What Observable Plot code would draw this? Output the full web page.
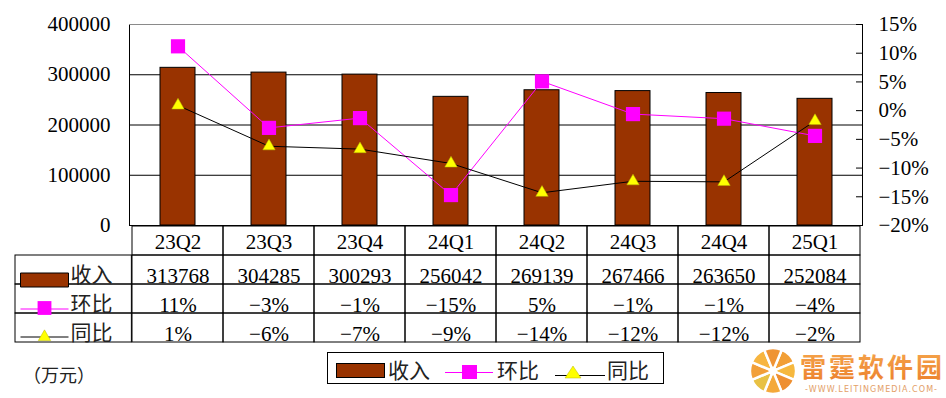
<!DOCTYPE html>
<html>
<head>
<meta charset="utf-8">
<script src="https://cdn.jsdelivr.net/npm/d3@7"></script>
<script src="https://cdn.jsdelivr.net/npm/@observablehq/plot@0.6"></script>
<style>
  html, body { margin: 0; padding: 0; background: #fff; }
  #wrap { position: relative; width: 946px; height: 398px; overflow: hidden; background: #fff; }
  #wrap > * { position: absolute; left: 0; }
  #chart { top: 0; }
  #table { top: 225px; }
  #extra { top: 0; pointer-events: none; }
</style>
</head>
<body>
<div id="wrap">
  <div id="chart"></div>
  <div id="table"></div>
  <svg id="extra" width="946" height="398"></svg>
</div>
<script>
// ---------- data ----------
const quarters = ["23Q2", "23Q3", "23Q4", "24Q1", "24Q2", "24Q3", "24Q4", "25Q1"];
const revenue  = [313768, 304285, 300293, 256042, 269139, 267466, 263650, 252084]; // 收入 (万元)
const qoq      = [11.2, -3.0, -1.3, -14.7, 5.1, -0.6, -1.4, -4.4];                  // 环比 %
const yoy      = [0.9, -6.2, -6.7, -9.2, -14.3, -12.3, -12.4, -1.8];                // 同比 %
const qoqLabels = ["11%", "−3%", "−1%", "−15%", "5%", "−1%", "−1%", "−4%"];
const yoyLabels = ["1%", "−6%", "−7%", "−9%", "−14%", "−12%", "−12%", "−2%"];
const leftTicks  = [0, 100000, 200000, 300000, 400000];
const rightTicks = [-20, -15, -10, -5, 0, 5, 10, 15];
const seriesNames = ["收入", "环比", "同比"];
const unitLabel = "（万元）";

// ---------- helpers ----------
const C_BAR = "#993300", C_QOQ = "#FF00FF", C_YOY = "#000000", C_TRI = "#FFFF00";
const FONT = '"Liberation Serif", "Noto Sans CJK SC", serif';
const YMAX = 400000, PMIN = -20, PMAX = 15;
const yOf = p => (p - PMIN) / (PMAX - PMIN) * YMAX;           // % -> left-axis units
const pOf = v => v / YMAX * (PMAX - PMIN) + PMIN;
const fmtPct = p => (p < 0 ? "−" + Math.abs(p) : String(p)) + "%";

const data = quarters.map((q, i) => ({q, rev: revenue[i], qoq: qoq[i], yoy: yoy[i], qoqL: qoqLabels[i], yoyL: yoyLabels[i]}));

const mL = 129, mR = 84, W = 946;
const bw = (W - mL - mR) / quarters.length;
const labelColW = 117;

// ---------- chart ----------
const chart = Plot.plot({
  width: W, height: 226,
  marginTop: 24, marginBottom: 1, marginLeft: mL, marginRight: mR,
  style: {fontFamily: FONT, fontSize: "21px", color: "#000", background: "transparent", overflow: "visible"},
  x: {type: "band", domain: quarters, padding: 0, axis: null},
  y: {domain: [0, YMAX], axis: null},
  marks: [
    Plot.ruleY([100000, 200000, 300000], {stroke: "#000", strokeWidth: 1}),
    Plot.frame({stroke: "#000"}),
    Plot.ruleY([YMAX], {stroke: "#8a8a8a"}),
    Plot.ruleY(rightTicks.map(yOf), {insetLeft: (W - mL - mR) - 6, stroke: "#000"}),
    Plot.barY(data, {x: "q", y: "rev", fill: C_BAR, stroke: "#000", strokeWidth: 1, insetLeft: 28, insetRight: 28}),
    Plot.line(data, {x: "q", y: d => yOf(d.qoq), stroke: C_QOQ, strokeWidth: 1}),
    Plot.dot(data, {x: "q", y: d => yOf(d.qoq), symbol: "square", r: 8, fill: C_QOQ}),
    Plot.line(data, {x: "q", y: d => yOf(d.yoy), stroke: C_YOY, strokeWidth: 1}),
    Plot.dot(data, {x: "q", y: d => yOf(d.yoy), symbol: "triangle", r: 4.6, fill: C_TRI, stroke: "#b8b800", strokeWidth: 0.5}),
    Plot.axisY(leftTicks, {anchor: "left", label: null, tickSize: 0, tickPadding: 19, tickFormat: d3.format("d"), fontSize: 21}),
    Plot.axisY(rightTicks.map(yOf), {anchor: "right", label: null, tickSize: 0, tickPadding: 16, fontSize: 21,
      tickFormat: d => fmtPct(Math.round(pOf(d)))})
  ]
});
document.getElementById("chart").append(chart);

// ---------- data table ----------
const rowKeys = ["cat", ...seriesNames];
const cells = [];
for (const r of rowKeys) for (const q of quarters) cells.push({q, r});

const rectSym = {draw(ctx) { ctx.moveTo(-24, -7); ctx.lineTo(24, -7); ctx.lineTo(24, 7); ctx.lineTo(-24, 7); ctx.closePath(); }};
const lineSym = {draw(ctx) { ctx.moveTo(-24, 0); ctx.lineTo(24, 0); }};

const table = Plot.plot({
  width: W, height: 118,
  marginTop: 0, marginBottom: 1, marginLeft: mL, marginRight: mR,
  style: {fontFamily: FONT, fontSize: "21px", color: "#000", background: "transparent", overflow: "visible"},
  x: {type: "band", domain: quarters, padding: 0, axis: null},
  y: {type: "band", domain: rowKeys, padding: 0, axis: null},
  marks: [
    Plot.cell(cells, {x: "q", y: "r", fill: "none", stroke: "#000"}),
    Plot.cell(seriesNames, {x: () => quarters[0], y: d => d, dx: -labelColW, insetRight: bw - labelColW, fill: "none", stroke: "#000"}),
    Plot.text(quarters, {x: d => d, y: () => "cat", dy: 1}),
    Plot.text(data, {x: "q", y: () => seriesNames[0], text: d => String(d.rev), dy: 6}),
    Plot.text(data, {x: "q", y: () => seriesNames[1], text: "qoqL", dy: 6}),
    Plot.text(data, {x: "q", y: () => seriesNames[2], text: "yoyL", dy: 6}),
    Plot.text(seriesNames, {y: d => d, frameAnchor: "left", dx: -59, dy: 5, textAnchor: "start", fontFamily: '"Noto Sans CJK SC", sans-serif', fill: "#222"}),
    // row swatches
    Plot.dot([seriesNames[0]], {y: d => d, frameAnchor: "left", dx: -85, dy: 10, symbol: rectSym, fill: C_BAR, stroke: "#000", strokeWidth: 1}),
    Plot.dot([seriesNames[1]], {y: d => d, frameAnchor: "left", dx: -85, dy: 10, symbol: lineSym, fill: "none", stroke: C_QOQ, strokeWidth: 1}),
    Plot.dot([seriesNames[1]], {y: d => d, frameAnchor: "left", dx: -85, dy: 9, symbol: "square", r: 7.8, fill: C_QOQ}),
    Plot.dot([seriesNames[2]], {y: d => d, frameAnchor: "left", dx: -85, dy: 9, symbol: lineSym, fill: "none", stroke: C_YOY, strokeWidth: 1}),
    Plot.dot([seriesNames[2]], {y: d => d, frameAnchor: "left", dx: -85, dy: 9, symbol: "triangle", r: 4.6, fill: C_TRI, stroke: "#b8b800", strokeWidth: 0.5})
  ]
});
document.getElementById("table").append(table);

// ---------- legend, unit and watermark ----------
const svg = d3.select("#extra");
const CJK = '"Noto Sans CJK SC", sans-serif';

svg.append("text").attr("x", 23).attr("y", 374).attr("dominant-baseline", "central")
  .attr("font-family", CJK).attr("font-size", 18).attr("fill", "#222").text(unitLabel);

const lg = svg.append("g");
lg.append("rect").attr("x", 327.5).attr("y", 352.5).attr("width", 336).attr("height", 31)
  .attr("fill", "#fff").attr("stroke", "#000");
lg.append("rect").attr("x", 336.5).attr("y", 363.5).attr("width", 48).attr("height", 14)
  .attr("fill", C_BAR).attr("stroke", "#000");
lg.append("line").attr("x1", 445).attr("x2", 493).attr("y1", 372.5).attr("y2", 372.5).attr("stroke", C_QOQ);
lg.append("rect").attr("x", 462).attr("y", 365).attr("width", 15).attr("height", 14).attr("fill", C_QOQ);
lg.append("line").attr("x1", 555).attr("x2", 605).attr("y1", 375.5).attr("y2", 375.5).attr("stroke", C_YOY);
lg.append("path").attr("d", "M573,366 L581,378 L565,378 Z").attr("fill", C_TRI).attr("stroke", "#b8b800").attr("stroke-width", 0.5);
const legX = [388, 497, 607];
seriesNames.forEach((s, i) => {
  lg.append("text").attr("x", legX[i]).attr("y", 369).attr("dominant-baseline", "central")
    .attr("font-family", CJK).attr("font-size", 21).attr("fill", "#222").text(s);
});

// watermark
const wm = svg.append("g").attr("opacity", 0.95);
const cx = 773, cy = 371, R = 23;
const wedgeCols = ["#F29A2C", "#F6B534", "#EE8A26", "#F4A530", "#E7BE3A", "#F29A2E", "#F7B236", "#EF8F2B"];
const arc = d3.arc().innerRadius(3).outerRadius(R);
const pie = d3.pie().value(1).sort(null).startAngle(Math.PI / 8).endAngle(Math.PI * 2 + Math.PI / 8);
wm.append("g").attr("transform", `translate(${cx},${cy})`).selectAll("path")
  .data(pie(wedgeCols)).join("path").attr("d", arc).attr("fill", (d, i) => wedgeCols[i])
  .attr("stroke", "#fff").attr("stroke-width", 2.5);
const grad = svg.append("defs").append("linearGradient").attr("id", "wmg").attr("x1", 0).attr("x2", 0).attr("y1", 0).attr("y2", 1);
grad.append("stop").attr("offset", "0%").attr("stop-color", "#F6A446");
grad.append("stop").attr("offset", "100%").attr("stop-color", "#EC7A22");
wm.append("text").attr("x", 800).attr("y", 365).attr("dominant-baseline", "central")
  .attr("font-family", CJK).attr("font-weight", 700).attr("font-size", 26).attr("fill", "url(#wmg)")
  .attr("textLength", 142).text("雷霆软件园");
wm.append("text").attr("x", 871).attr("y", 389).attr("dominant-baseline", "central").attr("text-anchor", "middle")
  .attr("font-family", '"DejaVu Sans", sans-serif').attr("font-size", 8).attr("fill", "#E29A5E")
  .attr("textLength", 132).text("-WWW.LEITINGMEDIA.COM-");
</script>
</body>
</html>
